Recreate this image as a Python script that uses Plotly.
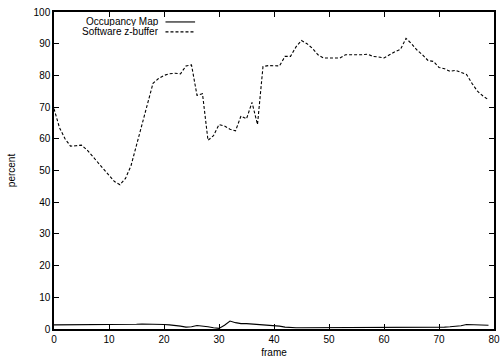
import plotly.graph_objects as go

frames = list(range(80))

occupancy_map = [
    1.3, 1.3, 1.3, 1.3, 1.3, 1.3, 1.3, 1.3, 1.3, 1.4,
    1.4, 1.4, 1.4, 1.5, 1.5, 1.5, 1.6, 1.6, 1.5, 1.4,
    1.4, 1.3, 1.2, 0.9, 0.6, 0.7, 1.1, 1.0, 0.7, 0.4,
    0.2, 1.2, 2.5, 2.0, 1.7, 1.7, 1.6, 1.4, 1.2, 1.1,
    1.0, 0.9, 0.6, 0.4, 0.4, 0.4, 0.4, 0.6, 0.6, 0.6,
    0.6, 0.6, 0.6, 0.6, 0.6, 0.6, 0.6, 0.6, 0.6, 0.6,
    0.6, 0.6, 0.6, 0.6, 0.6, 0.6, 0.6, 0.6, 0.6, 0.6,
    0.6, 0.6, 0.7, 0.8, 1.0, 1.4, 1.4, 1.3, 1.2, 1.2,
]

software_zbuffer = [
    69.5, 63.5, 60.0, 57.7, 57.8, 58.0, 56.5, 54.5, 52.5, 50.5,
    48.5, 46.5, 45.5, 47.5, 51.5, 58.0, 64.5, 71.0, 77.5, 79.0,
    80.0, 80.5, 80.7, 80.5, 83.0, 83.3, 73.7, 74.2, 59.5, 61.0,
    64.5, 64.0, 63.0, 62.5, 67.2, 66.3, 71.5, 64.5, 82.8, 83.1,
    83.0, 83.0, 86.0, 86.0, 89.0, 91.0, 90.0, 88.5, 86.5, 85.5,
    85.5, 85.5, 85.5, 86.5, 86.5, 86.3, 86.5, 86.7, 86.0, 85.8,
    85.5, 86.5, 87.5, 88.2, 91.7, 90.0, 88.0, 86.5, 84.7, 84.4,
    82.5, 82.1, 81.3, 81.6, 81.0, 80.3, 77.5, 75.0, 73.5, 72.3,
]

x_ticks = [0, 10, 20, 30, 40, 50, 60, 70, 80]
y_ticks = [0, 10, 20, 30, 40, 50, 60, 70, 80, 90, 100]

series_names = ["Occupancy Map", "Software z-buffer"]

FONT = "Liberation Sans, Arial, Helvetica, sans-serif"

fig = go.Figure()
fig.add_trace(go.Scatter(x=frames, y=occupancy_map, mode="lines", name=series_names[0],
                         line=dict(color="black", width=1.1), showlegend=False))
fig.add_trace(go.Scatter(x=frames, y=software_zbuffer, mode="lines", name=series_names[1],
                         line=dict(color="black", width=1.1, dash="3px,2px"), showlegend=False))

axis_common = dict(
    showgrid=False, zeroline=False, showline=True, linecolor="black", linewidth=1.5,
    mirror="ticks", ticks="inside", ticklen=5, tickwidth=1, tickcolor="black",
    tickfont=dict(family=FONT, size=10, color="black"), ticklabeloverflow="allow",
)

fig.update_xaxes(range=[0, 80], tickvals=x_ticks, **axis_common,
                 title=dict(text="frame", font=dict(family=FONT, size=10, color="black"), standoff=5))
fig.update_yaxes(range=[0, 100], tickvals=y_ticks, **axis_common,
                 title=dict(text="percent", font=dict(family=FONT, size=10, color="black"), standoff=16))

# gnuplot-style legend: text right-aligned, line sample to its right
legend_rows = [(series_names[0], None, 22), (series_names[1], "3px,2px", 32)]
for name, dash, ypx in legend_rows:
    yp = 1 - (ypx - 12) / (330.5 - 12)
    fig.add_annotation(xref="paper", yref="paper", x=(161 - 54) / 446, y=yp,
                       text=name, showarrow=False, xanchor="right", yanchor="middle",
                       height=9, borderpad=0,
                       font=dict(family=FONT, size=10, color="black"))
    fig.add_shape(type="line", xref="paper", yref="paper",
                  x0=(167 - 54) / 446, x1=(197 - 54) / 446, y0=yp, y1=yp,
                  line=dict(color="black", width=1.1, dash=dash if dash else "solid"))

fig.update_layout(
    width=504, height=361,
    margin=dict(l=54, r=4, t=12, b=30.5),
    plot_bgcolor="white", paper_bgcolor="white",
    font=dict(family=FONT, color="black"),
)

fig.write_html("out.html", config={"displayModeBar": False},
               post_script="document.body.style.margin='0';document.body.style.overflow='hidden';")
